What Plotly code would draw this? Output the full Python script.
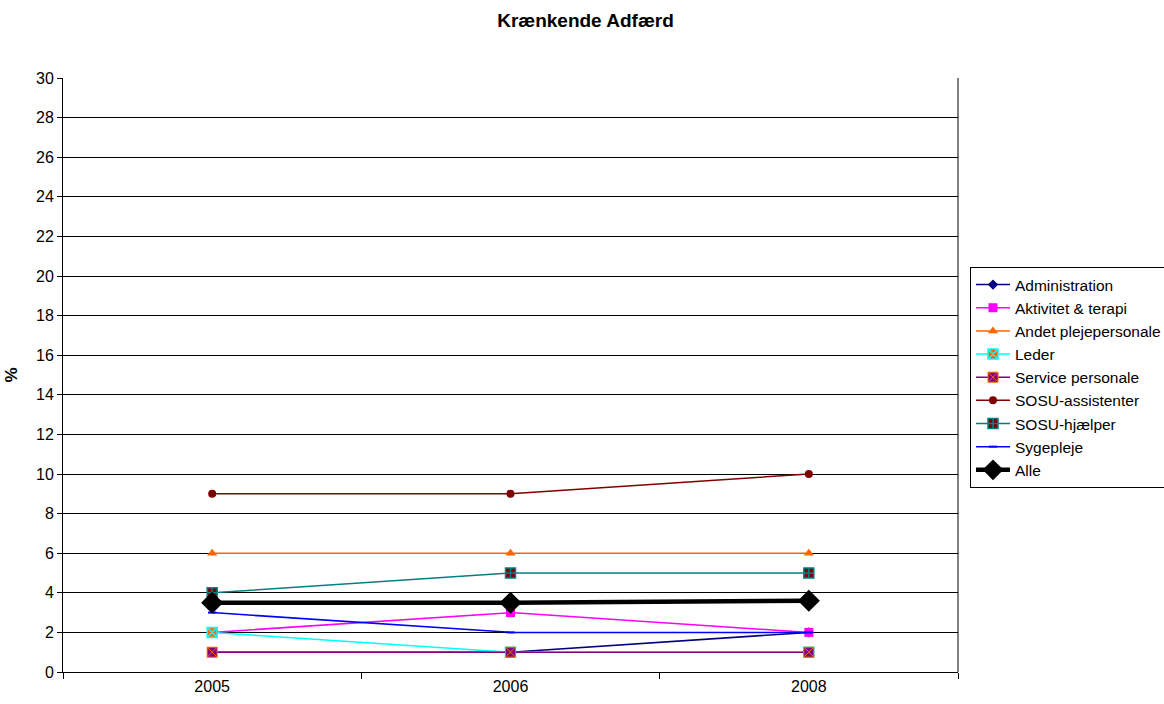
import plotly.graph_objects as go

years = ["2005", "2006", "2008"]

administration = [1, 1, 2]
aktivitet_terapi = [2, 3, 2]
andet_plejepersonale = [6, 6, 6]
leder = [2, 1, 1]
service_personale = [1, 1, 1]
sosu_assistenter = [9, 9, 10]
sosu_hjaelper = [4, 5, 5]
sygepleje = [3, 2, 2]
alle = [3.5, 3.5, 3.6]

y_ticks = list(range(0, 31, 2))

series = [
    ("Administration", administration, "#000080", dict(symbol="diamond", size=8, color="#000080")),
    ("Aktivitet & terapi", aktivitet_terapi, "#FF00FF", dict(symbol="square", size=9, color="#FF00FF")),
    ("Andet plejepersonale", andet_plejepersonale, "#FF6600", dict(symbol="triangle-up", size=9, color="#FF6600")),
    ("Leder", leder, "#00FFFF", dict(symbol="square-x", size=10, color="#FF6600",
                                     line=dict(color="#00FFFF", width=1.5))),
    ("Service personale", service_personale, "#800080", dict(symbol="square-x", size=10, color="#800080",
                                                            line=dict(color="#FF6600", width=1))),
    ("SOSU-assistenter", sosu_assistenter, "#800000", dict(symbol="circle", size=8, color="#800000")),
    ("SOSU-hjælper", sosu_hjaelper, "#008080", dict(symbol="square-cross", size=10, color="#800000",
                                                   line=dict(color="#008080", width=1.5))),
    ("Sygepleje", sygepleje, "#0000FF", dict(symbol="line-ew", size=6, color="#0000FF",
                                             line=dict(color="#0000FF", width=2))),
]

fig = go.Figure()
for name, vals, col, mk in series:
    fig.add_trace(go.Scatter(
        x=years, y=vals, name=name, mode="lines+markers",
        line=dict(color=col, width=1.5), marker=mk,
    ))

fig.add_trace(go.Scatter(
    x=years, y=alle, name="Alle", mode="lines+markers",
    line=dict(color="black", width=4.5),
    marker=dict(symbol="diamond", size=17, color="black"),
))

fig.update_layout(
    width=1164, height=704,
    margin=dict(l=63, r=206, t=78, b=32, autoexpand=False),
    paper_bgcolor="white", plot_bgcolor="white",
    font=dict(family="Liberation Sans, Arial, sans-serif", size=16, color="black"),
    title=dict(text="<b>Krænkende Adfærd</b>", x=0.503, xanchor="center", y=0.971, yanchor="middle",
               font=dict(size=19)),
    showlegend=True,
    legend=dict(xref="container", yref="container", x=970 / 1164, xanchor="left",
                y=1 - 267 / 704, yanchor="top",
                bordercolor="black", borderwidth=1, bgcolor="white",
                font=dict(size=15.5), tracegroupgap=0, itemwidth=34),
    xaxis=dict(type="category", range=[-0.5, 2.5], tickson="boundaries", ticks="outside", ticklen=6,
               tickcolor="black", showgrid=False, showline=True, linecolor="black",
               linewidth=1, mirror=False, tickfont=dict(size=16), zeroline=False,
               automargin=False),
    yaxis=dict(range=[0, 30], tickvals=y_ticks, ticks="outside", ticklen=5,
               tickcolor="black", showgrid=True, gridcolor="black", gridwidth=1,
               showline=True, linecolor="black", linewidth=1, zeroline=False,
               title=dict(text="<b>%</b>", font=dict(size=17), standoff=14),
               tickfont=dict(size=16), automargin=False),
)

# right edge of the plot area
fig.add_shape(type="line", xref="paper", yref="paper", x0=1, x1=1, y0=0, y1=1,
              line=dict(color="black", width=1))

fig.write_html("out.html")
